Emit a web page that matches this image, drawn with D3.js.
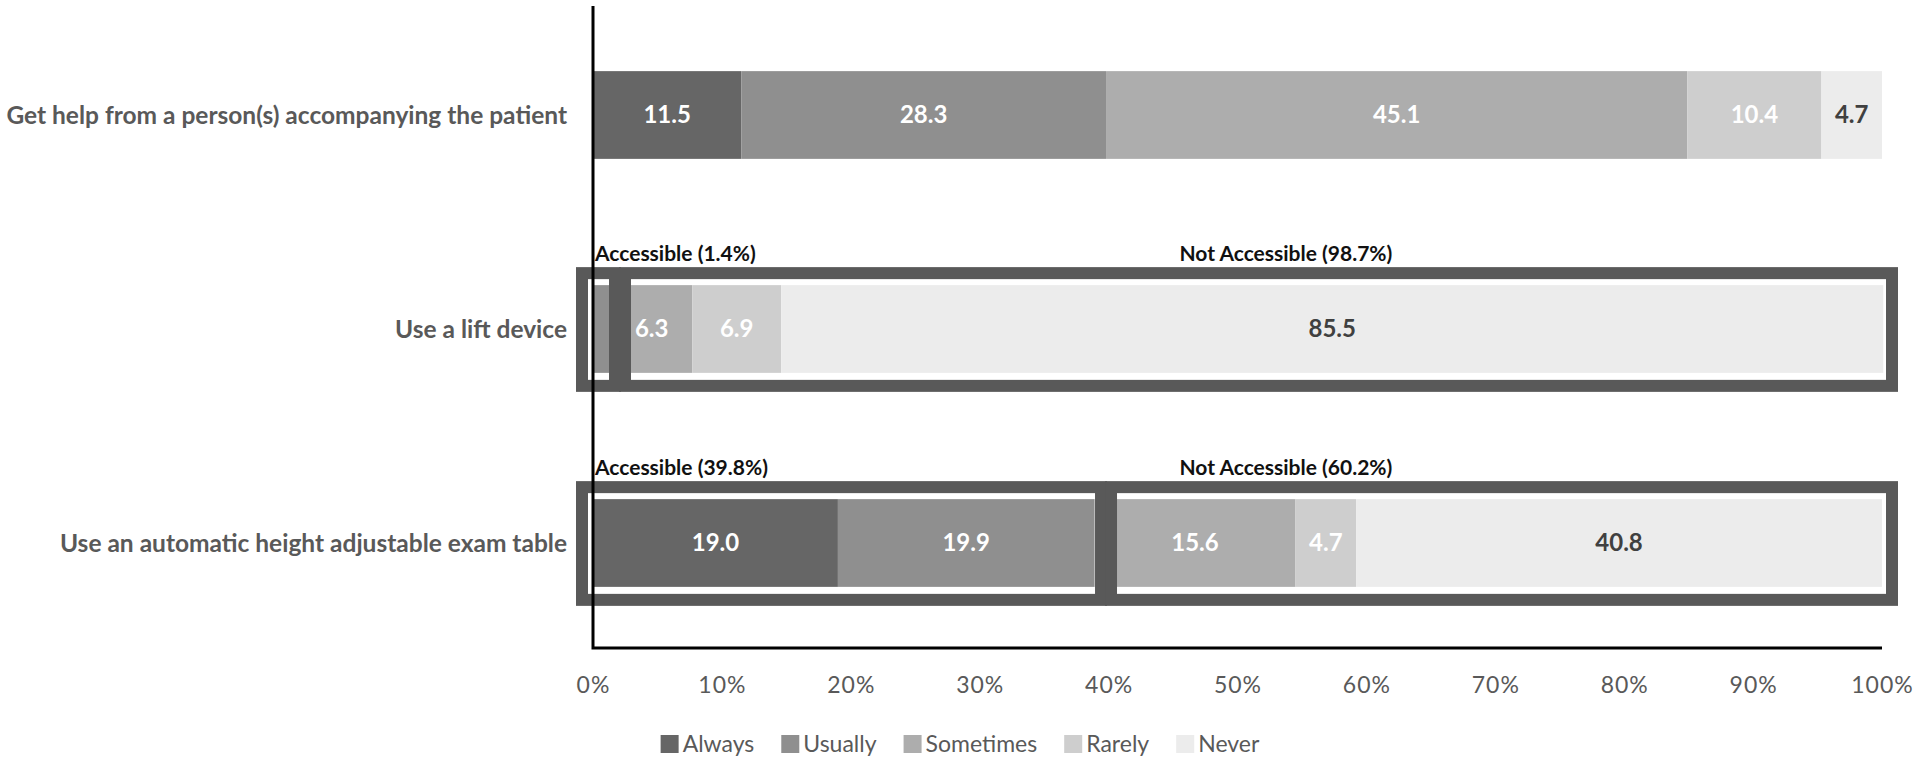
<!DOCTYPE html>
<html>
<head>
<meta charset="utf-8">
<script src="https://cdn.jsdelivr.net/npm/d3@7"></script>
<style>
  body { margin: 0; background: #fff; }
  svg { display: block; font-family: Lato, "Open Sans", sans-serif; }
</style>
</head>
<body>
<div id="chart"></div>
<script>
// chart values
const categories = [
  "Get help from a person(s) accompanying the patient",
  "Use a lift device",
  "Use an automatic height adjustable exam table"
];
const levels = ["Always", "Usually", "Sometimes", "Rarely", "Never"];
const always    = [11.5, 0.0, 19.0];
const usually   = [28.3, 1.4, 19.9];
const sometimes = [45.1, 6.3, 15.6];
const rarely    = [10.4, 6.9, 4.7];
const never     = [4.7, 85.5, 40.8];
const accessiblePct    = [null, 1.4, 39.8];
const notAccessiblePct = [null, 98.7, 60.2];
const xTicks = [0, 10, 20, 30, 40, 50, 60, 70, 80, 90, 100];

const colors = ["#666666", "#8f8f8f", "#adadad", "#cecece", "#ececec"];
const labelColors = ["#ffffff", "#ffffff", "#ffffff", "#ffffff", "#404040"];

const width = 1920, height = 765;
const margin = {top: 6, right: 38, bottom: 117, left: 593};

const rows = categories.map((c, i) => ({
  category: c,
  Always: always[i], Usually: usually[i], Sometimes: sometimes[i],
  Rarely: rarely[i], Never: never[i]
}));

const svg = d3.select("#chart").append("svg")
    .attr("width", width)
    .attr("height", height);

const x = d3.scaleLinear()
    .domain([0, 100])
    .range([margin.left, width - margin.right]);

const y = d3.scaleBand()
    .domain(categories)
    .range([margin.top + 2, height - margin.bottom + 2])
    .paddingInner(0.59)
    .paddingOuter(0.295);

const stacked = d3.stack().keys(levels)(rows);

// bars
const layer = svg.append("g").selectAll("g")
  .data(stacked)
  .join("g")
    .attr("fill", (d, i) => colors[i]);

layer.selectAll("rect")
  .data(d => d)
  .join("rect")
    .attr("x", d => x(d[0]))
    .attr("y", d => y(d.data.category))
    .attr("width", d => x(d[1]) - x(d[0]))
    .attr("height", y.bandwidth());

// value labels (tiny slices left blank)
stacked.forEach((s, k) => {
  svg.append("g").selectAll("text")
    .data(s.filter(d => d[1] - d[0] >= 3))
    .join("text")
      .attr("x", d => (x(d[0]) + x(d[1])) / 2)
      .attr("y", d => y(d.data.category) + y.bandwidth() / 2)
      .attr("dy", "0.35em")
      .attr("text-anchor", "middle")
      .attr("font-size", 24)
      .attr("font-weight", "bold")
      .attr("fill", labelColors[k])
      .text(d => (d[1] - d[0]).toFixed(1));
});

// accessible / not accessible frames
const boxStroke = 12;
categories.forEach((c, i) => {
  if (accessiblePct[i] == null) return;
  const top = y(c), bot = top + y.bandwidth();
  // keep the tiny accessible frame wide enough to see
  const div = Math.max(x(accessiblePct[i]), x(0) + 27);
  const g = svg.append("g")
      .attr("fill", "none")
      .attr("stroke", "#595959")
      .attr("stroke-width", boxStroke);
  g.append("rect")
      .attr("x", x(0) - 11)
      .attr("y", top - 12)
      .attr("width", div - 5 - (x(0) - 11))
      .attr("height", bot + 13 - (top - 12));
  g.append("rect")
      .attr("x", div + 5)
      .attr("y", top - 12)
      .attr("width", x(100) + 10 - (div + 5))
      .attr("height", bot + 13 - (top - 12));

  svg.append("text")
      .attr("x", x(0) + 2)
      .attr("y", top - 24)
      .attr("font-size", 21)
      .attr("font-weight", "bold")
      .attr("fill", "#111")
      .text(`Accessible (${accessiblePct[i]}%)`);
  svg.append("text")
      .attr("x", x(45.5))
      .attr("y", top - 24)
      .attr("font-size", 21)
      .attr("font-weight", "bold")
      .attr("fill", "#111")
      .text(`Not Accessible (${notAccessiblePct[i]}%)`);
});

// category labels
svg.append("g").selectAll("text")
  .data(categories)
  .join("text")
    .attr("x", x(0) - 26)
    .attr("y", d => y(d) + y.bandwidth() / 2)
    .attr("dy", "0.35em")
    .attr("text-anchor", "end")
    .attr("font-size", 24.5)
    .attr("font-weight", "bold")
    .attr("fill", "#595959")
    .text(d => d);

// x axis labels
const xAxis = svg.append("g")
    .attr("transform", `translate(0,${height - margin.bottom})`)
    .call(d3.axisBottom(x).tickValues(xTicks).tickSize(0).tickPadding(29)
      .tickFormat(d => d + "%"));
xAxis.select(".domain").remove();
xAxis.selectAll("text")
    .attr("font-family", "Lato, sans-serif")
    .attr("font-size", 23)
    .attr("letter-spacing", 1)
    .attr("fill", "#595959");

// axis lines
svg.append("path")
    .attr("d", `M${x(0)},${margin.top}V${height - margin.bottom}H${x(100)}`)
    .attr("fill", "none")
    .attr("stroke", "#000")
    .attr("stroke-width", 3);

// legend, centred on the page
const legend = svg.append("g");
let lx = 0;
levels.forEach((l, i) => {
  const item = legend.append("g").attr("transform", `translate(${lx},0)`);
  item.append("rect")
      .attr("x", 0).attr("y", -9)
      .attr("width", 18).attr("height", 18)
      .attr("fill", colors[i]);
  const t = item.append("text")
      .attr("x", 22)
      .attr("dy", "0.35em")
      .attr("font-size", 23)
      .attr("fill", "#595959")
      .text(l);
  lx += 22 + t.node().getComputedTextLength() + 27;
});
lx -= 27;
legend.attr("transform", `translate(${width / 2 - lx / 2},744)`);
</script>
</body>
</html>
